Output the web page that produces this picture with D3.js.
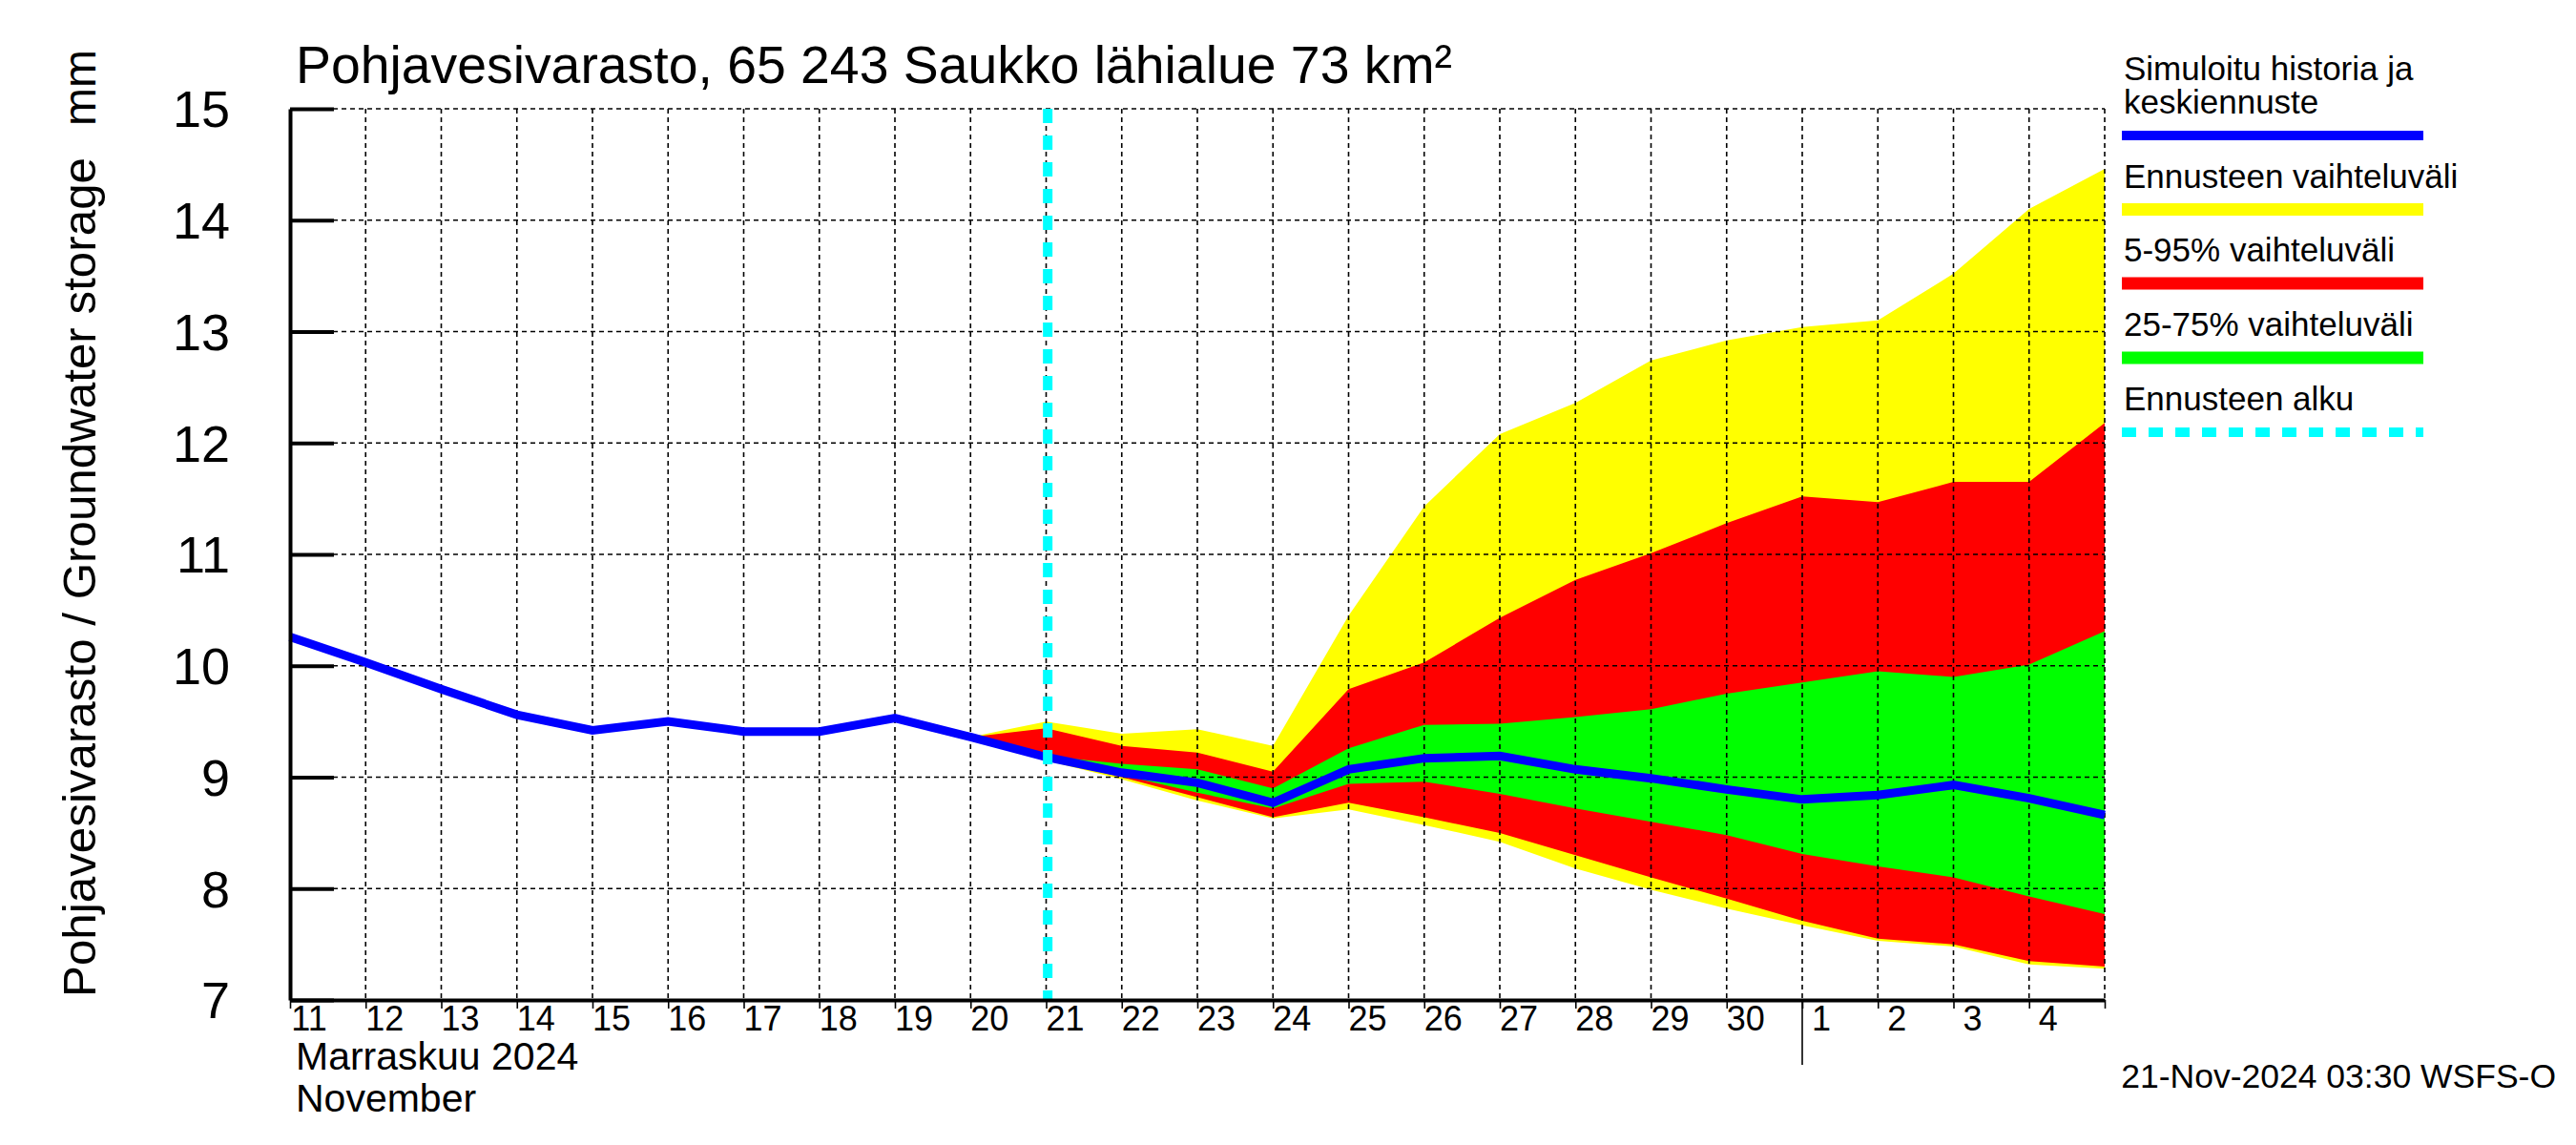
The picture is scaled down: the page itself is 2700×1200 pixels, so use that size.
<!DOCTYPE html>
<html>
<head>
<meta charset="utf-8">
<script src="https://cdn.jsdelivr.net/npm/d3@7"></script>
<style>
  body { margin: 0; background: #fff; }
  text { font-family: "Liberation Sans", Arial, sans-serif; fill: #000; }
</style>
</head>
<body>
<svg id="chart" width="2700" height="1200"></svg>
<script>
// simulated history + median forecast, one value per day at 00:00
const simDates = ["2024-11-11","2024-11-12","2024-11-13","2024-11-14","2024-11-15","2024-11-16",
  "2024-11-17","2024-11-18","2024-11-19","2024-11-20","2024-11-21","2024-11-22","2024-11-23",
  "2024-11-24","2024-11-25","2024-11-26","2024-11-27","2024-11-28","2024-11-29","2024-11-30",
  "2024-12-01","2024-12-02","2024-12-03","2024-12-04","2024-12-05"];
const simValues = [10.26, 10.03, 9.79, 9.56, 9.42, 9.50, 9.41, 9.41, 9.53, 9.36, 9.18, 9.04, 8.95,
  8.77, 9.07, 9.17, 9.19, 9.07, 8.99, 8.89, 8.80, 8.84, 8.93, 8.81, 8.66];

// forecast ranges
const fcDates = ["2024-11-20","2024-11-21","2024-11-22","2024-11-23","2024-11-24","2024-11-25",
  "2024-11-26","2024-11-27","2024-11-28","2024-11-29","2024-11-30","2024-12-01","2024-12-02",
  "2024-12-03","2024-12-04","2024-12-05"];
const rangeMax = [9.36, 9.50, 9.39, 9.43, 9.28, 10.45, 11.43, 12.08, 12.36, 12.74, 12.92, 13.04, 13.10, 13.52, 14.10, 14.46];
const p95 = [9.36, 9.44, 9.28, 9.22, 9.05, 9.79, 10.03, 10.43, 10.77, 11.01, 11.28, 11.52, 11.47, 11.65, 11.65, 12.18];
const p75 = [9.36, 9.19, 9.12, 9.07, 8.90, 9.26, 9.47, 9.48, 9.54, 9.61, 9.75, 9.85, 9.95, 9.90, 10.01, 10.31];
const p25 = [9.36, 9.17, 9.02, 8.86, 8.72, 8.94, 8.96, 8.85, 8.72, 8.60, 8.48, 8.31, 8.20, 8.10, 7.93, 7.77];
const p5 = [9.36, 9.16, 9.00, 8.82, 8.64, 8.77, 8.64, 8.50, 8.30, 8.10, 7.91, 7.71, 7.55, 7.50, 7.35, 7.30];
const rangeMin = [9.36, 9.15, 8.98, 8.79, 8.63, 8.71, 8.57, 8.42, 8.18, 7.99, 7.82, 7.67, 7.53, 7.48, 7.32, 7.28];

const forecastStart = "2024-11-21T00:30";
const yTicks = [7, 8, 9, 10, 11, 12, 13, 14, 15];

const titleText = "Pohjavesivarasto, 65 243 Saukko lähialue 73 km²";
const yTitle = "Pohjavesivarasto / Groundwater storage";
const yUnit = "mm";
const monthFi = "Marraskuu 2024";
const monthEn = "November";
const stamp = "21-Nov-2024 03:30 WSFS-O";
const legendItems = [
  { label: ["Simuloitu historia ja", "keskiennuste"], color: "#0000ff", w: 10 },
  { label: ["Ennusteen vaihteluväli"], color: "#ffff00", w: 13 },
  { label: ["5-95% vaihteluväli"], color: "#ff0000", w: 13 },
  { label: ["25-75% vaihteluväli"], color: "#00ff00", w: 13 },
  { label: ["Ennusteen alku"], color: "#00ffff", w: 10, dash: "15,13" }
];

const parse = d3.utcParse("%Y-%m-%d");
const parseT = d3.utcParse("%Y-%m-%dT%H:%M");

const margin = { top: 114, right: 494, bottom: 152, left: 304 };
const W = 2700, H = 1200;
const width = W - margin.left - margin.right;
const height = H - margin.top - margin.bottom;

const svg = d3.select("#chart");
const g = svg.append("g").attr("transform", `translate(${margin.left},${margin.top})`);

const x = d3.scaleUtc()
  .domain([parse("2024-11-11"), parse("2024-12-05")])
  .range([0, width]);
const y = d3.scaleLinear().domain([7, 15]).range([height, 0]);

const fc = fcDates.map((d, i) => ({
  t: parse(d), max: rangeMax[i], p95: p95[i], p75: p75[i], p25: p25[i], p5: p5[i], min: rangeMin[i]
}));
const sim = simDates.map((d, i) => ({ t: parse(d), v: simValues[i] }));

const band = (lo, hi) => d3.area().x(d => x(d.t)).y0(d => y(d[lo])).y1(d => y(d[hi]));

g.append("path").datum(fc).attr("d", band("min", "max")).attr("fill", "#ffff00");
g.append("path").datum(fc).attr("d", band("p5", "p95")).attr("fill", "#ff0000");
g.append("path").datum(fc).attr("d", band("p25", "p75")).attr("fill", "#00ff00");

// grid
const days = d3.utcDay.range(x.domain()[0], d3.utcDay.offset(x.domain()[1], 1));
g.append("g").selectAll("line").data(days.slice(1)).join("line")
  .attr("x1", d => x(d)).attr("x2", d => x(d))
  .attr("y1", 0).attr("y2", height)
  .attr("stroke", "#000").attr("stroke-width", 1.6).attr("stroke-dasharray", "5,4");
g.append("g").selectAll("line").data(yTicks.slice(1)).join("line")
  .attr("x1", 0).attr("x2", width)
  .attr("y1", d => y(d)).attr("y2", d => y(d))
  .attr("stroke", "#000").attr("stroke-width", 1.6).attr("stroke-dasharray", "5,4");

// simulated / median line
g.append("path").datum(sim)
  .attr("d", d3.line().x(d => x(d.t)).y(d => y(d.v)))
  .attr("fill", "none").attr("stroke", "#0000ff").attr("stroke-width", 9)
  .attr("stroke-linejoin", "miter");

// forecast start
const fx = x(parseT(forecastStart));
g.append("line").attr("x1", fx).attr("x2", fx).attr("y1", 0).attr("y2", height)
  .attr("stroke", "#00ffff").attr("stroke-width", 10).attr("stroke-dasharray", "15,13");

// axes
const yAxis = g.append("g").call(d3.axisLeft(y).tickValues(yTicks).tickSize(-46).tickFormat("").tickSizeOuter(0));
yAxis.select(".domain").attr("stroke-width", 4);
yAxis.selectAll(".tick line").attr("stroke-width", 4);
g.append("g").selectAll("text").data(yTicks).join("text")
  .attr("x", -63).attr("y", d => y(d)).attr("dy", "0.36em")
  .attr("text-anchor", "end").attr("font-size", 54).text(d => d);

const xAxis = g.append("g").attr("transform", `translate(0,${height})`)
  .call(d3.axisBottom(x).ticks(d3.utcDay.every(1)).tickSize(9).tickFormat("").tickSizeOuter(0));
xAxis.select(".domain").attr("stroke-width", 4);
xAxis.selectAll(".tick line").attr("stroke-width", 1.6);

g.append("g").selectAll("text").data(days.slice(0, -1)).join("text")
  .attr("x", d => x(d) + 20).attr("y", height + 32)
  .attr("text-anchor", "middle").attr("font-size", 36)
  .text(d => d3.utcFormat("%-d")(d));

// month boundary
const m1 = x(parse("2024-12-01"));
g.append("line").attr("x1", m1).attr("x2", m1).attr("y1", height).attr("y2", height + 68)
  .attr("stroke", "#000").attr("stroke-width", 1.6);

g.append("text").attr("x", 6).attr("y", height + 73).attr("font-size", 41).text(monthFi);
g.append("text").attr("x", 6).attr("y", height + 117).attr("font-size", 41).text(monthEn);

// titles
svg.append("text").attr("x", 310).attr("y", 87).attr("font-size", 56)
  .attr("textLength", 1212).attr("lengthAdjust", "spacingAndGlyphs").text(titleText);

svg.append("text").attr("transform", "translate(100,1045) rotate(-90)")
  .attr("font-size", 48).attr("textLength", 880).attr("lengthAdjust", "spacingAndGlyphs").text(yTitle);
svg.append("text").attr("transform", "translate(100,52) rotate(-90)")
  .attr("font-size", 48).attr("text-anchor", "end").text(yUnit);

// legend
const lg = svg.append("g").attr("transform", "translate(2224,0)");
const lineY = [142, 219.5, 297, 375, 453];
legendItems.forEach((it, i) => {
  const ly = lineY[i];
  it.label.forEach((t, j) => {
    const base = it.label.length === 2 ? ly - 58 + (j - 1) * 0 : ly - 23;
    lg.append("text").attr("x", 2)
      .attr("y", it.label.length === 2 ? [84, 119][j] : base)
      .attr("font-size", 35).text(t);
  });
  lg.append("line").attr("x1", 0).attr("x2", 316).attr("y1", ly).attr("y2", ly)
    .attr("stroke", it.color).attr("stroke-width", it.w)
    .attr("stroke-dasharray", it.dash || null);
});

svg.append("text").attr("x", 2679).attr("y", 1140).attr("text-anchor", "end")
  .attr("font-size", 35.5).text(stamp);
</script>
</body>
</html>
